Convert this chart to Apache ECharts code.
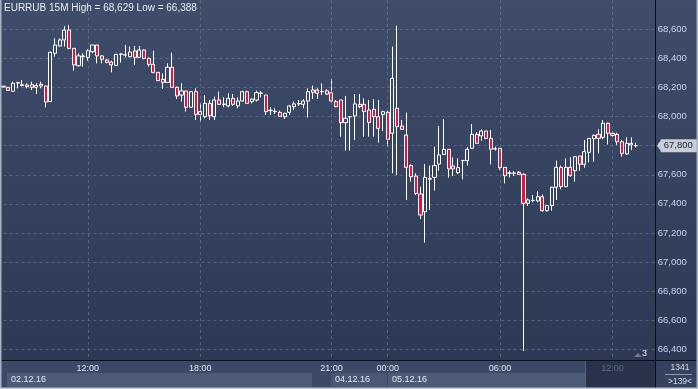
<!DOCTYPE html>
<html><head><meta charset="utf-8">
<script src="https://cdn.jsdelivr.net/npm/echarts@6/dist/echarts.min.js"></script>
<style>html,body{margin:0;padding:0;background:#2f3c58;overflow:hidden}#c{width:698px;height:389px}</style>
</head><body><div id="c"></div>
<script>
// ---- data (EURRUB 15M) ----
const opens = [68.203,68.201,68.174,68.231,68.219,68.206,68.219,68.201,68.222,68.210,68.103,68.435,68.485,68.527,68.595,68.469,68.350,68.412,68.407,68.446,
68.492,68.417,68.389,68.375,68.352,68.428,68.425,68.412,68.451,68.407,68.458,68.400,68.359,68.304,68.256,68.235,68.339,68.201,68.148,68.176,
68.064,68.171,68.015,67.999,68.091,67.999,68.114,68.084,68.073,68.125,68.073,68.107,68.171,68.103,68.114,68.160,68.148,68.041,68.034,68.029,
67.999,68.029,68.068,68.087,68.084,68.107,68.167,68.183,68.171,68.178,68.164,68.103,68.114,67.958,67.999,68.004,68.084,68.084,68.045,68.050,
67.999,68.015,68.029,67.885,68.057,67.935,67.873,67.663,67.591,67.468,67.346,67.575,67.582,67.674,67.740,67.775,67.660,67.614,67.697,67.697,
67.782,67.878,67.867,67.901,67.850,67.777,67.782,67.651,67.610,67.610,67.617,67.603,67.404,67.422,67.420,67.449,67.353,67.388,67.514,67.651,
67.518,67.651,67.628,67.729,67.672,67.754,67.848,67.878,67.857,67.954,67.885,67.878,67.827,67.743,67.816,67.800];
const closes = [68.209,68.180,68.229,68.233,68.214,68.217,68.201,68.213,68.210,68.100,68.442,68.492,68.527,68.595,68.469,68.355,68.417,68.417,68.453,68.492,
68.417,68.394,68.373,68.355,68.428,68.430,68.423,68.444,68.407,68.458,68.400,68.359,68.304,68.247,68.235,68.339,68.201,68.142,68.176,68.064,
68.171,68.015,68.034,68.091,68.006,68.114,68.084,68.086,68.125,68.084,68.107,68.171,68.091,68.121,68.164,68.162,68.034,68.043,68.036,68.002,
68.022,68.073,68.087,68.089,68.107,68.171,68.183,68.160,68.173,68.155,68.107,68.068,67.958,67.988,68.000,68.087,68.068,68.034,67.960,67.999,
67.919,68.034,67.844,68.263,67.931,67.912,67.651,67.587,67.472,67.323,67.582,67.569,67.663,67.736,67.775,67.640,67.640,67.649,67.699,67.775,
67.878,67.816,67.901,67.850,67.775,67.779,67.649,67.594,67.612,67.612,67.603,67.404,67.427,67.424,67.449,67.353,67.388,67.514,67.651,67.518,
67.651,67.594,67.724,67.672,67.759,67.850,67.871,67.850,67.954,67.885,67.871,67.827,67.747,67.816,67.805,67.800];
const lows = [68.201,68.178,68.171,68.194,68.206,68.194,68.183,68.155,68.194,68.064,68.100,68.412,68.481,68.481,68.462,68.316,68.343,68.343,68.384,68.435,
68.366,68.366,68.366,68.304,68.350,68.371,68.407,68.407,68.355,68.405,68.394,68.343,68.297,68.247,68.190,68.233,68.201,68.121,68.103,68.034,
68.060,67.977,67.965,67.988,67.977,67.977,68.080,68.064,68.064,68.073,68.057,68.103,68.091,68.091,68.103,68.132,68.011,68.011,68.018,67.999,
67.983,68.011,68.045,68.073,68.057,67.993,68.121,68.121,68.148,68.148,68.098,68.064,67.862,67.766,67.766,67.839,68.057,67.862,67.862,67.862,
67.821,67.901,67.793,67.610,67.598,67.908,67.427,67.553,67.461,67.296,67.133,67.358,67.491,67.628,67.736,67.580,67.591,67.605,67.569,67.663,
67.777,67.812,67.834,67.844,67.672,67.766,67.633,67.541,67.582,67.591,67.598,66.388,67.385,67.411,67.411,67.346,67.346,67.353,67.427,67.500,
67.514,67.587,67.553,67.628,67.649,67.685,67.690,67.747,67.844,67.808,67.862,67.805,67.724,67.736,67.770,67.789];
const highs = [68.210,68.203,68.240,68.240,68.251,68.229,68.240,68.229,68.240,68.213,68.446,68.538,68.538,68.623,68.629,68.469,68.435,68.435,68.462,68.492,
68.492,68.423,68.394,68.384,68.430,68.435,68.492,68.481,68.485,68.485,68.462,68.407,68.453,68.304,68.297,68.366,68.439,68.206,68.229,68.176,
68.176,68.194,68.091,68.148,68.114,68.137,68.171,68.132,68.160,68.155,68.132,68.178,68.178,68.125,68.178,68.176,68.148,68.064,68.057,68.041,
68.027,68.080,68.103,68.114,68.121,68.194,68.213,68.194,68.229,68.187,68.258,68.114,68.114,68.142,68.002,68.155,68.155,68.125,68.114,68.119,
68.114,68.041,68.041,68.481,68.625,67.977,68.027,67.674,67.610,67.518,67.674,67.663,67.793,67.935,67.983,67.775,67.720,67.713,67.701,67.789,
67.949,67.892,67.912,67.901,67.908,67.793,67.782,67.651,67.628,67.626,67.626,67.610,67.438,67.461,67.488,67.465,67.392,67.518,67.697,67.663,
67.713,67.720,67.724,67.729,67.839,67.850,67.876,67.912,67.976,67.958,67.896,67.889,67.839,67.857,67.857,67.821];

// sessions of 15-minute bars shown on the time axis (date, first bar time, number of slots)
const sessions = [
  {date: [2016, 12, 2], start: [7, 30], slots: 70},
  {date: [2016, 12, 4], start: [21, 0], slots: 70}
];
const timeTicks = ['02.12.16 12:00', '02.12.16 18:00', '04.12.16 21:00', '05.12.16 00:00', '05.12.16 06:00', '05.12.16 12:00'];
const futureTicks = ['05.12.16 12:00'];
const dayLabels = ['02.12.16', '04.12.16', '05.12.16'];
const yMin = 66.4, yMax = 68.6, yStep = 0.2;
const titleText = 'EURRUB 15M High = 68,629 Low = 66,388';
const barCountText = '1341';
const visibleText = '>139<';

// ---- build categories ----
const pad = n => (n < 10 ? '0' : '') + n;
const categories = [];
sessions.forEach(s => {
  const t0 = Date.UTC(s.date[0], s.date[1] - 1, s.date[2], s.start[0], s.start[1]);
  for (let k = 0; k < s.slots; k++) {
    const d = new Date(t0 + k * 15 * 60000);
    categories.push(pad(d.getUTCDate()) + '.' + pad(d.getUTCMonth() + 1) + '.' + String(d.getUTCFullYear()).slice(2) +
      ' ' + pad(d.getUTCHours()) + ':' + pad(d.getUTCMinutes()));
  }
});
const candles = opens.map((o, i) => [o, closes[i], lows[i], highs[i]]);
const fmt = v => Number(v).toFixed(3).replace('.', ',');

const FONT = 'Liberation Sans';
const gridColor = 'rgba(110,128,160,0.55)';

const chart = echarts.init(document.getElementById('c'));
const graphics = [
  // time axis panel
  {type: 'rect', z: 1, shape: {x: 0, y: 361, width: 655, height: 27}, style: {fill: '#3c4966'}},
  {type: 'rect', z: 1, shape: {x: 7, y: 373, width: 305, height: 14}, style: {fill: '#4d5b77'}},
  {type: 'rect', z: 1, shape: {x: 331, y: 373, width: 56, height: 14}, style: {fill: '#4a5874'}},
  {type: 'rect', z: 1, shape: {x: 388, y: 373, width: 197, height: 14}, style: {fill: '#4d5b77'}},
  {type: 'rect', z: 1, shape: {x: 585, y: 361, width: 70, height: 27}, style: {fill: '#28334b'}},
  {type: 'line', z: 2, shape: {x1: 585.5, y1: 361, x2: 585.5, y2: 388}, style: {stroke: '#56627a', lineWidth: 1}},
  {type: 'text', z: 6, style: {x: 11, y: 380, text: dayLabels[0], fill: '#e2e8f1', font: '9px ' + FONT, verticalAlign: 'middle'}},
  {type: 'text', z: 6, style: {x: 335, y: 380, text: dayLabels[1], fill: '#e2e8f1', font: '9px ' + FONT, verticalAlign: 'middle'}},
  {type: 'text', z: 6, style: {x: 392, y: 380, text: dayLabels[2], fill: '#e2e8f1', font: '9px ' + FONT, verticalAlign: 'middle'}},
  // separators
  {type: 'line', z: 3, shape: {x1: 0, y1: 360.5, x2: 698, y2: 360.5}, style: {stroke: '#0a0e16', lineWidth: 1}},
  {type: 'line', z: 3, shape: {x1: 655.5, y1: 0, x2: 655.5, y2: 389}, style: {stroke: '#0a0e16', lineWidth: 1}},
  // bottom-right info
  {type: 'rect', z: 1, shape: {x: 656, y: 361, width: 41, height: 27}, style: {fill: '#35425e'}},
  {type: 'text', z: 6, style: {x: 680, y: 368, text: barCountText, fill: '#d4dbe8', font: '8.5px ' + FONT, align: 'center', verticalAlign: 'middle'}},
  {type: 'line', z: 6, shape: {x1: 665, y1: 374.5, x2: 692, y2: 374.5}, style: {stroke: '#8e98ab', lineWidth: 1}},
  {type: 'text', z: 6, style: {x: 680, y: 382, text: visibleText, fill: '#d4dbe8', font: '8.5px ' + FONT, align: 'center', verticalAlign: 'middle'}},
  // small marker near the bottom
  {type: 'polygon', z: 6, shape: {points: [[634, 357], [638, 353], [642, 357]]}, style: {fill: '#6f7890'}},
  {type: 'text', z: 6, style: {x: 642, y: 354, text: '3', fill: '#e8ecf3', font: '9px ' + FONT, verticalAlign: 'middle'}},
  // frame borders
  {type: 'line', z: 7, shape: {x1: 0.75, y1: 0, x2: 0.75, y2: 389}, style: {stroke: '#aab3c3', lineWidth: 1.5}},
  {type: 'line', z: 7, shape: {x1: 697.25, y1: 0, x2: 697.25, y2: 389}, style: {stroke: '#aab3c3', lineWidth: 1.5}},
  {type: 'line', z: 7, shape: {x1: 0, y1: 388.25, x2: 698, y2: 388.25}, style: {stroke: '#c2c9d4', lineWidth: 1.5}}
];

chart.setOption({
  animation: false,
  backgroundColor: {type: 'linear', x: 0, y: 0, x2: 0, y2: 1,
    colorStops: [{offset: 0, color: '#3f4d6a'}, {offset: 1, color: '#2b3753'}]},
  title: {text: titleText, left: 4, top: 3, padding: 0,
    textStyle: {color: '#e8ecf3', fontSize: 10, fontWeight: 'normal', fontFamily: FONT}},
  grid: [
    {left: 3.5, right: 43.3, top: 29.3, height: 320},
    {left: 3.5, right: 43.3, top: 0, height: 360}
  ],
  xAxis: [
    {gridIndex: 0, type: 'category', data: categories, boundaryGap: false, show: false},
    {gridIndex: 1, type: 'category', data: categories, boundaryGap: false, z: 5,
      axisLine: {show: false}, axisTick: {show: false},
      axisLabel: {interval: (i, v) => timeTicks.includes(v), formatter: v => v.slice(9),
        color: v => futureTicks.includes(v) ? '#5f6a84' : '#dfe5ef',
        fontSize: 9, fontFamily: FONT, margin: 4},
      splitLine: {show: true, interval: (i, v) => timeTicks.includes(v),
        lineStyle: {color: gridColor, width: 1, type: [3, 3]}}}
  ],
  yAxis: [
    {gridIndex: 0, type: 'value', position: 'right', min: yMin, max: yMax, interval: yStep,
      axisLine: {show: false}, axisTick: {show: false},
      axisLabel: {formatter: fmt, color: '#c8d4ea', fontSize: 9.5, fontFamily: FONT, margin: 3},
      splitLine: {lineStyle: {color: gridColor, width: 1, type: [3, 3]}}},
    {gridIndex: 1, type: 'value', show: false, min: 0, max: 1}
  ],
  series: [{
    type: 'candlestick', xAxisIndex: 0, yAxisIndex: 0, data: candles, barWidth: 3.6, clip: false,
    itemStyle: {color: 'rgba(0,0,0,0)', color0: '#e8103c', borderColor: '#ffffff', borderColor0: '#ffffff',
      borderColorDoji: '#ffffff', borderWidth: 1},
    markLine: {silent: true, symbol: ['none', 'none'], animation: false,
      data: [{yAxis: closes[closes.length - 1]}],
      lineStyle: {color: 'rgba(0,0,0,0)', width: 0},
      label: {show: true, position: 'end', distance: 6, formatter: p => fmt(p.value),
        backgroundColor: '#c9cdd5', color: '#1b2335', fontSize: 9.5, fontFamily: FONT, padding: [2, 9, 1, 3]}}
  }],
  graphic: graphics
});

// pointed left end of the last-price tag, placed through the value scale
const lastY = chart.convertToPixel({yAxisIndex: 0}, closes[closes.length - 1]);
graphics.push({type: 'polygon', z: 8, shape: {points: [[657, lastY], [661, lastY - 5.5], [661, lastY + 5.5]]}, style: {fill: '#c9cdd5'}});
chart.setOption({graphic: graphics});
</script></body></html>
